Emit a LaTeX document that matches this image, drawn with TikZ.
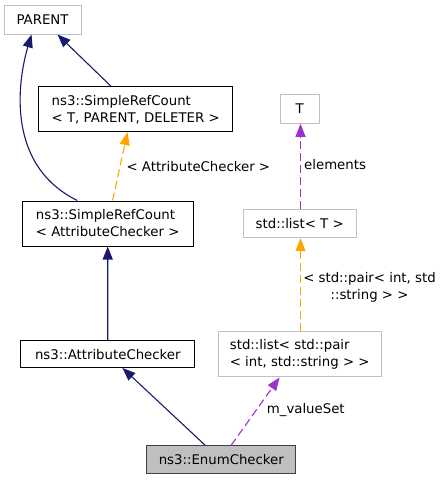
\documentclass[tikz,border=0pt]{standalone}
\usepackage{fontspec}
\setmainfont{DejaVu Sans}
\usetikzlibrary{arrows.meta}
\definecolor{navy}{HTML}{191970}
\definecolor{orng}{HTML}{FFA500}
\definecolor{purp}{HTML}{9A32CD}
\definecolor{lgray}{HTML}{BFBFBF}
\definecolor{dgray}{HTML}{404040}
\tikzset{
  box/.style={draw=black, line width=1pt, inner sep=0pt, align=left, font=\fontsize{13.3}{17}\selectfont},
  extbox/.style={box, draw=lgray},
  curbox/.style={box, draw=dgray, fill=lgray},
  inh/.style={draw=navy, line width=1.1pt, -{Triangle[length=13pt,width=10pt]}},
  tmpl/.style={draw=orng, line width=1.1pt, dash pattern=on 8pt off 4pt, -{Triangle[length=13pt,width=10pt]}},
  usage/.style={draw=purp, line width=1.1pt, dash pattern=on 8pt off 4pt, -{Triangle[length=13pt,width=10pt]}},
  lbl/.style={inner sep=0pt, font=\fontsize{13.3}{17}\selectfont, align=center}
}
\begin{document}
\begin{tikzpicture}[x=1pt,y=-1pt]
\useasboundingbox (0,0) rectangle (444,480);
\node[extbox, minimum width=77pt, minimum height=29pt] (parent) at (42.5,19.5) {PARENT};
\node[box, minimum width=194pt, minimum height=44.7pt] (srcT) at (135.7,109.3) {ns3::SimpleRefCount\\< T, PARENT, DELETER >};
\node[box, minimum width=170.7pt, minimum height=45pt] (srcAC) at (107.7,223.5) {ns3::SimpleRefCount\\< AttributeChecker >};
\node[box, minimum width=174.3pt, minimum height=26.5pt] (ac) at (107.8,354.2) {ns3::AttributeChecker};
\node[curbox, minimum width=149.3pt, minimum height=27.3pt] (enum) at (221.3,459.4) {ns3::EnumChecker};
\node[extbox, minimum width=39.3pt, minimum height=29pt] (T) at (299.7,108.8) {T};
\node[extbox, minimum width=112.7pt, minimum height=28.4pt] (listT) at (299.7,223.5) {std::list< T >};
\node[extbox, minimum width=162.7pt, minimum height=45.3pt] (listP) at (299.7,354.3) {std::list< std::pair\\< int, std::string > >};

\draw[inh] ([xshift=73pt]srcT.north west) -- ([xshift=54pt]parent.south west);
\draw[inh] ([xshift=55.5pt]srcAC.north west) .. controls (5,165) and (18,80) .. ([xshift=28pt]parent.south west);
\draw[tmpl] ([xshift=90.7pt]srcAC.north west) -- ([xshift=89.3pt]srcT.south west)
  node[lbl, midway, anchor=west, xshift=6pt] (l1) {< AttributeChecker >};
\draw[inh] (ac) -- (srcAC);
\draw[inh] ([xshift=59pt]enum.north west) -- ([xshift=102.3pt]ac.south west);
\draw[usage] ([xshift=85pt]enum.north west) -- ([xshift=61.7pt]listP.south west);
\node[lbl, anchor=west] (l2) at (266.7,410) {m\_valueSet};
\draw[tmpl] ([xshift=0.8pt]listP.north) -- ([xshift=0.8pt]listT.south);
\node[lbl] (l3) at (369.5,287.5) {< std::pair< int, std\\::string > >};
\draw[usage] ([xshift=0.8pt]listT.north) -- ([xshift=0.8pt]T.south);
\node[lbl, anchor=west] (l4) at (304,165) {elements};
\end{tikzpicture}
\end{document}
